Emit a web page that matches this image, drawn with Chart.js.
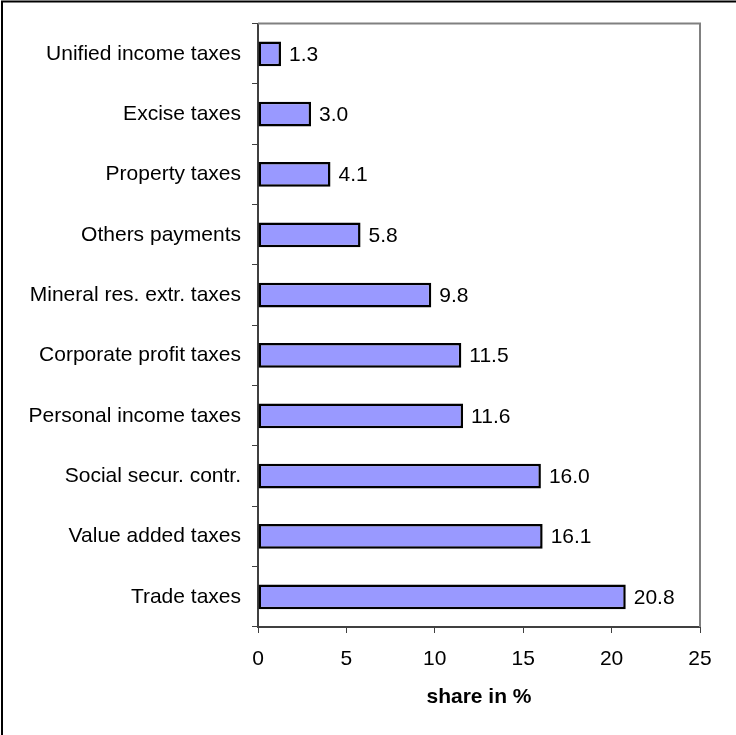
<!DOCTYPE html>
<html>
<head>
<meta charset="utf-8">
<script src="https://cdn.jsdelivr.net/npm/chart.js@4/dist/chart.umd.min.js"></script>
<style>
  html, body { margin: 0; padding: 0; background: #fff; }
  #wrap { width: 736px; height: 735px; position: relative; }
</style>
</head>
<body>
<div id="wrap"><canvas id="c" width="736" height="735"></canvas></div>
<script>
// Tax revenue structure, share in %
const categories = [
  'Unified income taxes',
  'Excise taxes',
  'Property taxes',
  'Others payments',
  'Mineral res. extr. taxes',
  'Corporate profit taxes',
  'Personal income taxes',
  'Social secur. contr.',
  'Value added taxes',
  'Trade taxes'
];
const shares = [1.3, 3.0, 4.1, 5.8, 9.8, 11.5, 11.6, 16.0, 16.1, 20.8];
const xTicks = [0, 5, 10, 15, 20, 25];

const FONT = '"Liberation Sans", Arial, sans-serif';
const SIZE = 21;

// Value labels to the right of each bar, plus frame lines
const decorations = {
  id: 'decorations',
  beforeDraw(chart) {
    const ctx = chart.ctx;
    ctx.save();
    ctx.fillStyle = '#fff';
    ctx.fillRect(0, 0, chart.width, chart.height);
    ctx.strokeStyle = '#000';
    ctx.lineWidth = 2;
    ctx.beginPath();
    ctx.moveTo(2, chart.height);
    ctx.lineTo(2, 1.5);
    ctx.lineTo(chart.width, 1.5);
    ctx.stroke();
    ctx.restore();
  },
  afterDatasetsDraw(chart) {
    const ctx = chart.ctx;
    const a = chart.chartArea;
    ctx.save();
    // top and right edges of the plot area
    ctx.strokeStyle = '#808080';
    ctx.lineWidth = 2;
    ctx.beginPath();
    ctx.moveTo(a.left, a.top);
    ctx.lineTo(a.right, a.top);
    ctx.lineTo(a.right, a.bottom);
    ctx.stroke();
    // values
    ctx.fillStyle = '#000';
    ctx.font = SIZE + 'px ' + FONT;
    ctx.textAlign = 'left';
    ctx.textBaseline = 'middle';
    const meta = chart.getDatasetMeta(0);
    meta.data.forEach((bar, i) => {
      ctx.fillText(shares[i].toFixed(1), bar.x + 8, bar.y + 1);
    });
    ctx.restore();
  }
};

new Chart(document.getElementById('c'), {
  type: 'bar',
  data: {
    labels: categories,
    datasets: [{
      data: shares,
      backgroundColor: '#9999FF',
      borderColor: '#000',
      borderWidth: 2.5,
      borderSkipped: false,
      categoryPercentage: 1,
      barPercentage: 0.41
    }]
  },
  options: {
    indexAxis: 'y',
    responsive: false,
    animation: false,
    devicePixelRatio: 1,
    layout: { padding: { top: 22, right: 36, left: 0, bottom: 0 } },
    plugins: { legend: { display: false }, tooltip: { enabled: false } },
    scales: {
      x: {
        type: 'linear',
        min: 0,
        max: 25,
        afterBuildTicks(scale) { scale.ticks = xTicks.map(v => ({ value: v })); },
        afterFit(scale) { scale.height = 108; },
        border: { display: true, color: '#404040', width: 2 },
        grid: { drawOnChartArea: false, drawTicks: true, tickLength: 6, color: '#404040', lineWidth: 1 },
        ticks: { color: '#000', font: { family: FONT, size: SIZE }, padding: 14, maxRotation: 0 },
        title: {
          display: true,
          text: 'share in %',
          color: '#000',
          font: { family: FONT, size: SIZE, weight: 'bold' },
          padding: { top: 10, bottom: 25 }
        }
      },
      y: {
        type: 'category',
        afterFit(scale) { scale.width = 258; },
        border: { display: true, color: '#404040', width: 2 },
        grid: { offset: true, drawOnChartArea: false, drawTicks: true, tickLength: 6, color: '#404040', lineWidth: 1 },
        ticks: { color: '#000', font: { family: FONT, size: SIZE }, padding: 11, autoSkip: false }
      }
    }
  },
  plugins: [decorations]
});
</script>
</body>
</html>
